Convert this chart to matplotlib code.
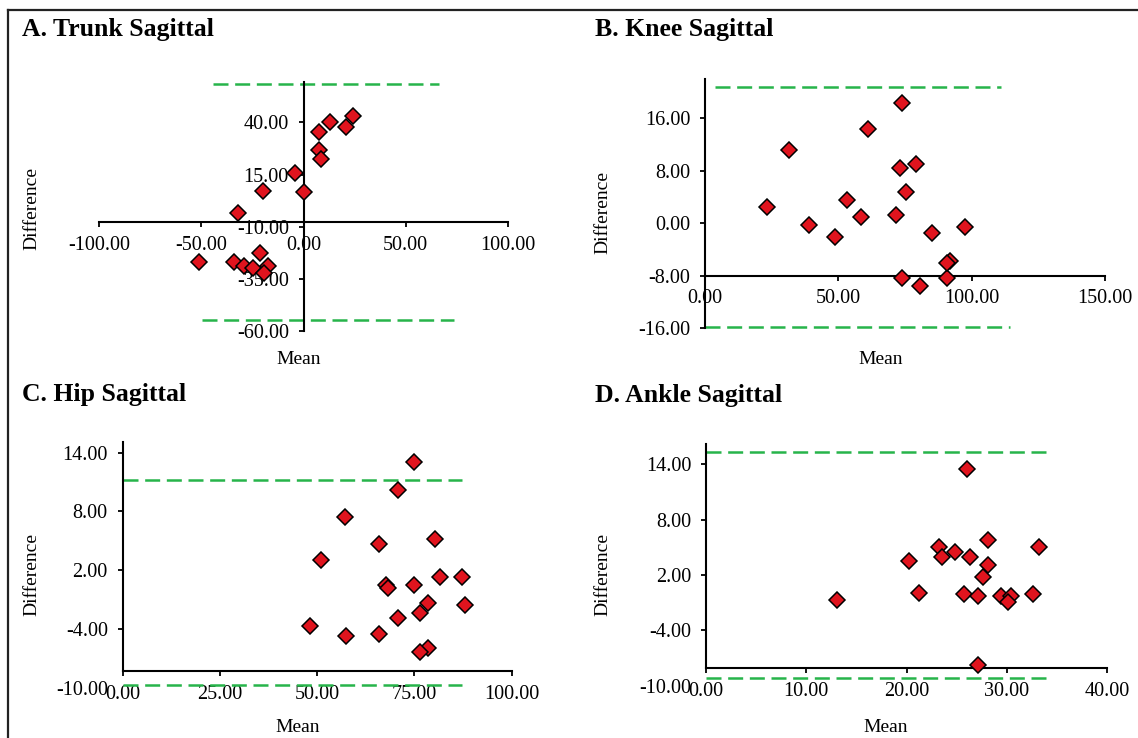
import matplotlib.pyplot as plt
from matplotlib.lines import Line2D

plt.rcParams["font.family"] = ["Liberation Serif", "DejaVu Serif"]
plt.rcParams["lines.scale_dashes"] = False
plt.rcParams["axes.unicode_minus"] = False

W, H = 1138, 738
RED = "#e0141e"
GREEN = "#27b44a"

# A. Trunk Sagittal
trunk_mean = [24.0, 13.2, 20.9, 7.5, 7.8, 8.7, -4.2, 0.2, -20.0, -31.9,
              -21.1, -50.9, -34.0, -29.1, -24.7, -17.4, -19.2]
trunk_diff = [43.0, 40.0, 37.9, 35.2, 26.9, 22.6, 15.5, 6.4, 7.0, -3.2,
              -22.4, -26.9, -27.0, -29.0, -29.7, -29.0, -32.1]
trunk_upper, trunk_upper_x = 58.2, [-44.4, 66.3]
trunk_lower, trunk_lower_x = -54.7, [-49.8, 73.6]
trunk_xticks = [-100, -50, 0, 50, 100]
trunk_yticks = [-60, -35, -10, 15, 40]

# B. Knee Sagittal
knee_mean = [23.3, 31.5, 39.0, 48.8, 53.1, 58.4, 61.3, 71.8, 73.0, 73.9,
             75.5, 79.2, 73.9, 80.7, 85.1, 90.6, 91.7, 90.8, 97.4]
knee_diff = [2.4, 11.1, -0.35, -2.1, 3.6, 0.9, 14.4, 1.2, 8.4, 18.3,
             4.8, 9.0, -8.35, -9.5, -1.5, -8.35, -5.7, -6.1, -0.6]
knee_upper, knee_upper_x = 20.8, [3.7, 111.0]
knee_lower, knee_lower_x = -15.85, [0.0, 114.5]
knee_xticks = [0, 50, 100, 150]
knee_yticks = [-16, -8, 0, 8, 16]

# C. Hip Sagittal
hip_mean = [75.0, 70.8, 57.1, 65.8, 80.3, 51.1, 81.6, 87.1, 67.6, 68.3,
            75.0, 78.6, 88.0, 76.4, 70.8, 48.1, 57.5, 65.8, 78.4, 76.4]
hip_diff = [13.0, 10.2, 7.4, 4.7, 5.2, 3.1, 1.3, 1.3, 0.5, 0.2,
            0.5, -1.3, -1.5, -2.3, -2.8, -3.7, -4.7, -4.5, -5.9, -6.3]
hip_upper, hip_upper_x = 11.2, [0.0, 87.3]
hip_lower, hip_lower_x = -9.7, [0.0, 87.3]
hip_xticks = [0, 25, 50, 75, 100]
hip_yticks = [-10, -4, 2, 8, 14]

# D. Ankle Sagittal
ankle_mean = [26.0, 28.1, 33.2, 23.2, 23.5, 24.8, 26.3, 20.2, 28.1, 27.6,
              21.2, 25.7, 27.1, 29.4, 30.4, 30.1, 32.6, 13.1, 27.1]
ankle_diff = [13.5, 5.8, 5.0, 5.0, 3.9, 4.5, 3.9, 3.5, 3.1, 1.8,
              0.1, -0.1, -0.3, -0.3, -0.3, -0.9, -0.1, -0.7, -7.75]
ankle_upper, ankle_upper_x = 15.37, [0.0, 34.0]
ankle_lower, ankle_lower_x = -9.14, [0.0, 34.0]
ankle_xticks = [0, 10, 20, 30, 40]
ankle_yticks = [-10, -4, 2, 8, 14]

fig = plt.figure(figsize=(W / 100, H / 100), dpi=100)


def px_rect(left, right, top, bottom):
    return [left / W, 1 - bottom / H, (right - left) / W, (bottom - top) / H]


def panel(rect, mean, diff, xticks, yticks, ylim, x_axis_at,
          upper, upper_x, lower, lower_x, cut_left=False):
    ax = fig.add_axes(rect)
    ax.set_facecolor("none")
    ax.set_xlim(xticks[0], xticks[-1])
    ax.set_ylim(*ylim)
    ax.spines["top"].set_visible(False)
    ax.spines["right"].set_visible(False)
    ax.spines["left"].set_position(("data", 0))
    ax.spines["bottom"].set_position(("data", x_axis_at))
    for s in ("left", "bottom"):
        ax.spines[s].set_linewidth(1.5)
    if cut_left:
        ax.spines["left"].set_bounds(x_axis_at, ylim[1])
    ax.set_xticks(xticks, labels=[f"{t:.2f}" for t in xticks])
    ax.set_yticks(yticks, labels=[f"{t:.2f}" for t in yticks])
    ax.tick_params(axis="both", direction="out", length=3.6, width=1.3,
                   labelsize=14.5, colors="black")
    ax.tick_params(axis="y", pad=7)
    ax.tick_params(axis="x", pad=6)
    if cut_left:
        ax.yaxis.get_major_ticks()[0].tick1line.set_visible(False)

    ax.plot(upper_x, [upper, upper], color=GREEN, lw=1.8,
            dashes=(10.8, 4.8), clip_on=False, zorder=2)
    ax.plot(lower_x, [lower, lower], color=GREEN, lw=1.8,
            dashes=(10.8, 4.8), clip_on=False, zorder=2)
    ax.plot(mean, diff, ls="none", marker="D", ms=7.8, mfc=RED,
            mec="black", mew=1.1, clip_on=False, zorder=3)
    return ax


panel(px_rect(99, 508, 81.6, 331.1), trunk_mean, trunk_diff,
      trunk_xticks, trunk_yticks, (-60, 59.5), -7.9,
      trunk_upper, trunk_upper_x, trunk_lower, trunk_lower_x)
panel(px_rect(705, 1105, 79.3, 328.3), knee_mean, knee_diff,
      knee_xticks, knee_yticks, (-16, 21.9), -8.0,
      knee_upper, knee_upper_x, knee_lower, knee_lower_x)
panel(px_rect(122.5, 511.8, 441.7, 688.3), hip_mean, hip_diff,
      hip_xticks, hip_yticks, (-10, 15.1), -8.26,
      hip_upper, hip_upper_x, hip_lower, hip_lower_x, cut_left=True)
panel(px_rect(706, 1107, 444, 685.7), ankle_mean, ankle_diff,
      ankle_xticks, ankle_yticks, (-10, 16.2), -8.1,
      ankle_upper, ankle_upper_x, ankle_lower, ankle_lower_x, cut_left=True)

# titles and axis labels
titles = ["A. Trunk Sagittal", "B. Knee Sagittal", "C. Hip Sagittal", "D. Ankle Sagittal"]
title_pos = [(22, 36), (594.6, 36), (22, 400.7), (594.6, 402)]
for t, (x, y) in zip(titles, title_pos):
    fig.text(x / W, 1 - y / H, t, fontsize=18.5, fontweight="bold",
             ha="left", va="baseline")

for x, y in [(32, 208), (602.6, 212), (32, 575), (602.6, 574)]:
    fig.text(x / W, 1 - y / H, "Difference", fontsize=14, rotation=90,
             ha="center", va="center")
for x, y in [(299, 364), (881, 364), (298, 732), (886, 732)]:
    fig.text(x / W, 1 - y / H, "Mean", fontsize=14, ha="center", va="baseline")

# frame around the figure
fig.add_artist(Line2D([8.3 / W, 8.3 / W], [0, 1 - 10 / H], color="#222222", lw=1.6))
fig.add_artist(Line2D([8.3 / W, 1], [1 - 10 / H, 1 - 10 / H], color="#222222", lw=1.6))

fig.savefig("out.png", dpi=100)
